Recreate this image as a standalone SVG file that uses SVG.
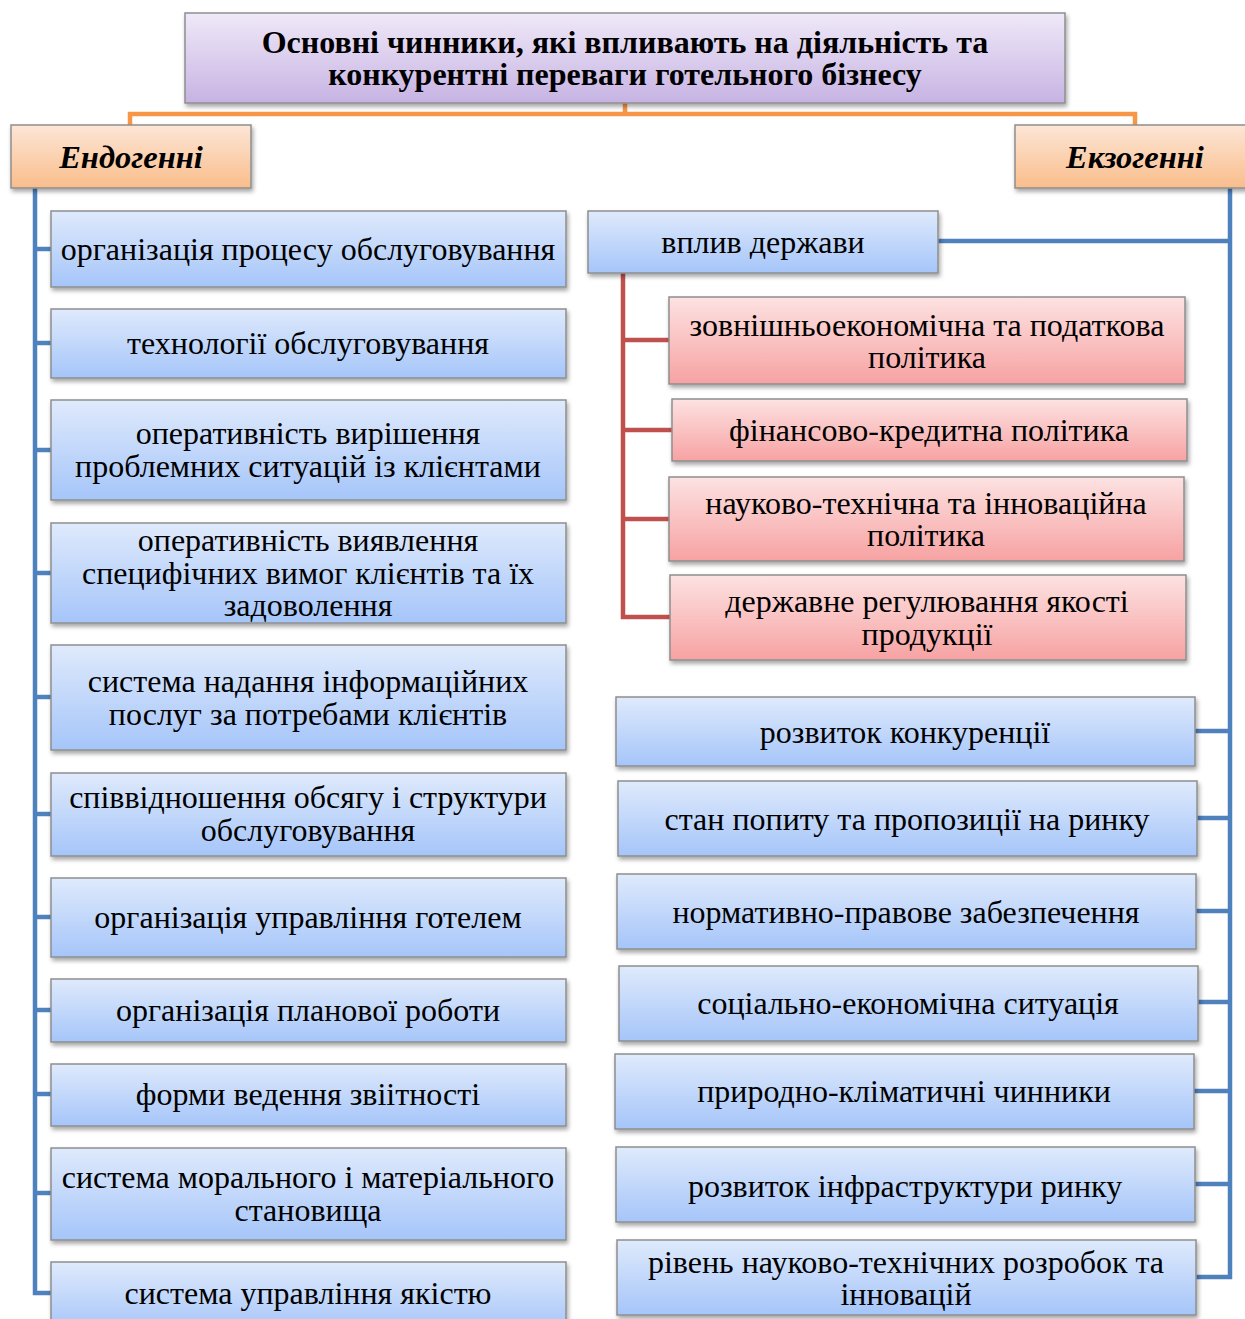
<svg xmlns="http://www.w3.org/2000/svg" width="1245" height="1319" viewBox="0 0 1245 1319">
<defs>
<linearGradient id="gBlue" x1="0" y1="0" x2="0" y2="1"><stop offset="0" stop-color="#dfeafc"/><stop offset="1" stop-color="#a5c5f9"/></linearGradient>
<linearGradient id="gRed" x1="0" y1="0" x2="0" y2="1"><stop offset="0" stop-color="#fde2e2"/><stop offset="1" stop-color="#f7a2a2"/></linearGradient>
<linearGradient id="gOr" x1="0" y1="0" x2="0" y2="1"><stop offset="0" stop-color="#fde6d6"/><stop offset="1" stop-color="#f9bd8b"/></linearGradient>
<linearGradient id="gPur" x1="0" y1="0" x2="0" y2="1"><stop offset="0" stop-color="#efe9f8"/><stop offset="1" stop-color="#c7b3e3"/></linearGradient>
<filter id="sh" x="-5%" y="-10%" width="110%" height="130%"><feDropShadow dx="1.5" dy="3" stdDeviation="2" flood-color="#000" flood-opacity="0.35"/></filter>
</defs>
<style>
.box{stroke:#8e8e8e;stroke-width:1.5;filter:url(#sh)}
.b{fill:url(#gBlue)}
.r{fill:url(#gRed)}
.o{fill:url(#gOr)}
.p{fill:url(#gPur)}
text{font-family:"Liberation Serif","Times New Roman",serif;font-size:32px;fill:#000;text-anchor:middle;dominant-baseline:central}
.t{font-weight:bold}
.h{font-weight:bold;font-style:italic;font-size:32.5px}
.cb{stroke:#4f81bd;stroke-width:4.5;fill:none}
.cr{stroke:#c0504d;stroke-width:4.5;fill:none}
.co{stroke:#f79646;stroke-width:4.5;fill:none}
</style>
<g id="connectors">
<path class="co" d="M625 103V114M130 125V114H1135V125"/>
<path class="cb" d="M35 188V1293H51M35 249H51M35 343H51M35 450H51M35 573H51M35 697H51M35 814H51M35 917H51M35 1010H51M35 1094H51M35 1193H51"/>
<path class="cb" d="M1230 188V1277H1196M938 241H1230M1195 731H1230M1197 818H1230M1196 911H1230M1198 1002H1230M1194 1091H1230M1195 1184H1230"/>
<path class="cr" d="M623 273V617H670M623 340H669M623 430H672M623 519H669"/>
</g>
<g id="title"><rect class="box p" x="185" y="13" width="880" height="90"/><text class="t" x="625" y="42">Основні чинники, які впливають на діяльність та</text><text class="t" x="625" y="74">конкурентні переваги готельного бізнесу</text></g>
<g id="endo"><rect class="box o" x="11" y="125" width="240" height="63"/><text class="h" x="131" y="157">Ендогенні</text></g>
<g id="exo"><rect class="box o" x="1015" y="125" width="240" height="63"/><text class="h" x="1135" y="157">Екзогенні</text></g>
<g id="n1"><rect class="box b" x="51" y="211" width="515" height="76"/><text x="308" y="249">організація процесу обслуговування</text></g>
<g id="n2"><rect class="box b" x="51" y="309" width="515" height="69"/><text x="308" y="343">технології обслуговування</text></g>
<g id="n3"><rect class="box b" x="51" y="400" width="515" height="100"/><text x="308" y="433">оперативність вирішення</text><text x="308" y="466">проблемних ситуацій із клієнтами</text></g>
<g id="n4"><rect class="box b" x="51" y="523" width="515" height="100"/><text x="308" y="540">оперативність виявлення</text><text x="308" y="573">специфічних вимог клієнтів та їх</text><text x="308" y="605">задоволення</text></g>
<g id="n5"><rect class="box b" x="51" y="645" width="515" height="105"/><text x="308" y="681">система надання інформаційних</text><text x="308" y="714">послуг за потребами клієнтів</text></g>
<g id="n6"><rect class="box b" x="51" y="773" width="515" height="83"/><text x="308" y="797">співвідношення обсягу і структури</text><text x="308" y="830">обслуговування</text></g>
<g id="n7"><rect class="box b" x="51" y="878" width="515" height="79"/><text x="308" y="917">організація управління готелем</text></g>
<g id="n8"><rect class="box b" x="51" y="979" width="515" height="63"/><text x="308" y="1010">організація планової роботи</text></g>
<g id="n9"><rect class="box b" x="51" y="1064" width="515" height="62"/><text x="308" y="1094">форми ведення звіітності</text></g>
<g id="n10"><rect class="box b" x="51" y="1148" width="515" height="92"/><text x="308" y="1177">система морального і матеріального</text><text x="308" y="1210">становища</text></g>
<g id="n11"><rect class="box b" x="51" y="1262" width="515" height="70"/><text x="308" y="1293">система управління якістю</text></g>
<g id="s0"><rect class="box b" x="588" y="211" width="350" height="62"/><text x="763" y="242">вплив держави</text></g>
<g id="r1"><rect class="box r" x="669" y="297" width="516" height="87"/><text x="927" y="325">зовнішньоекономічна та податкова</text><text x="927" y="357">політика</text></g>
<g id="r2"><rect class="box r" x="672" y="399" width="515" height="62"/><text x="929" y="430">фінансово-кредитна політика</text></g>
<g id="r3"><rect class="box r" x="669" y="477" width="515" height="84"/><text x="926" y="503">науково-технічна та інноваційна</text><text x="926" y="535">політика</text></g>
<g id="r4"><rect class="box r" x="670" y="575" width="516" height="85"/><text x="927" y="601">державне регулювання якості</text><text x="927" y="634">продукції</text></g>
<g id="s1"><rect class="box b" x="616" y="697" width="579" height="69"/><text x="905" y="732">розвиток конкуренції</text></g>
<g id="s2"><rect class="box b" x="618" y="781" width="579" height="75"/><text x="907" y="819">стан попиту та пропозиції на ринку</text></g>
<g id="s3"><rect class="box b" x="617" y="874" width="579" height="75"/><text x="906" y="912">нормативно-правове забезпечення</text></g>
<g id="s4"><rect class="box b" x="619" y="966" width="579" height="75"/><text x="908" y="1003">соціально-економічна ситуація</text></g>
<g id="s5"><rect class="box b" x="615" y="1054" width="579" height="75"/><text x="904" y="1091">природно-кліматичні чинники</text></g>
<g id="s6"><rect class="box b" x="616" y="1147" width="579" height="75"/><text x="905" y="1186">розвиток інфраструктури ринку</text></g>
<g id="s7"><rect class="box b" x="617" y="1240" width="579" height="75"/><text x="906" y="1262">рівень науково-технічних розробок та</text><text x="906" y="1294">інновацій</text></g>
</svg>
